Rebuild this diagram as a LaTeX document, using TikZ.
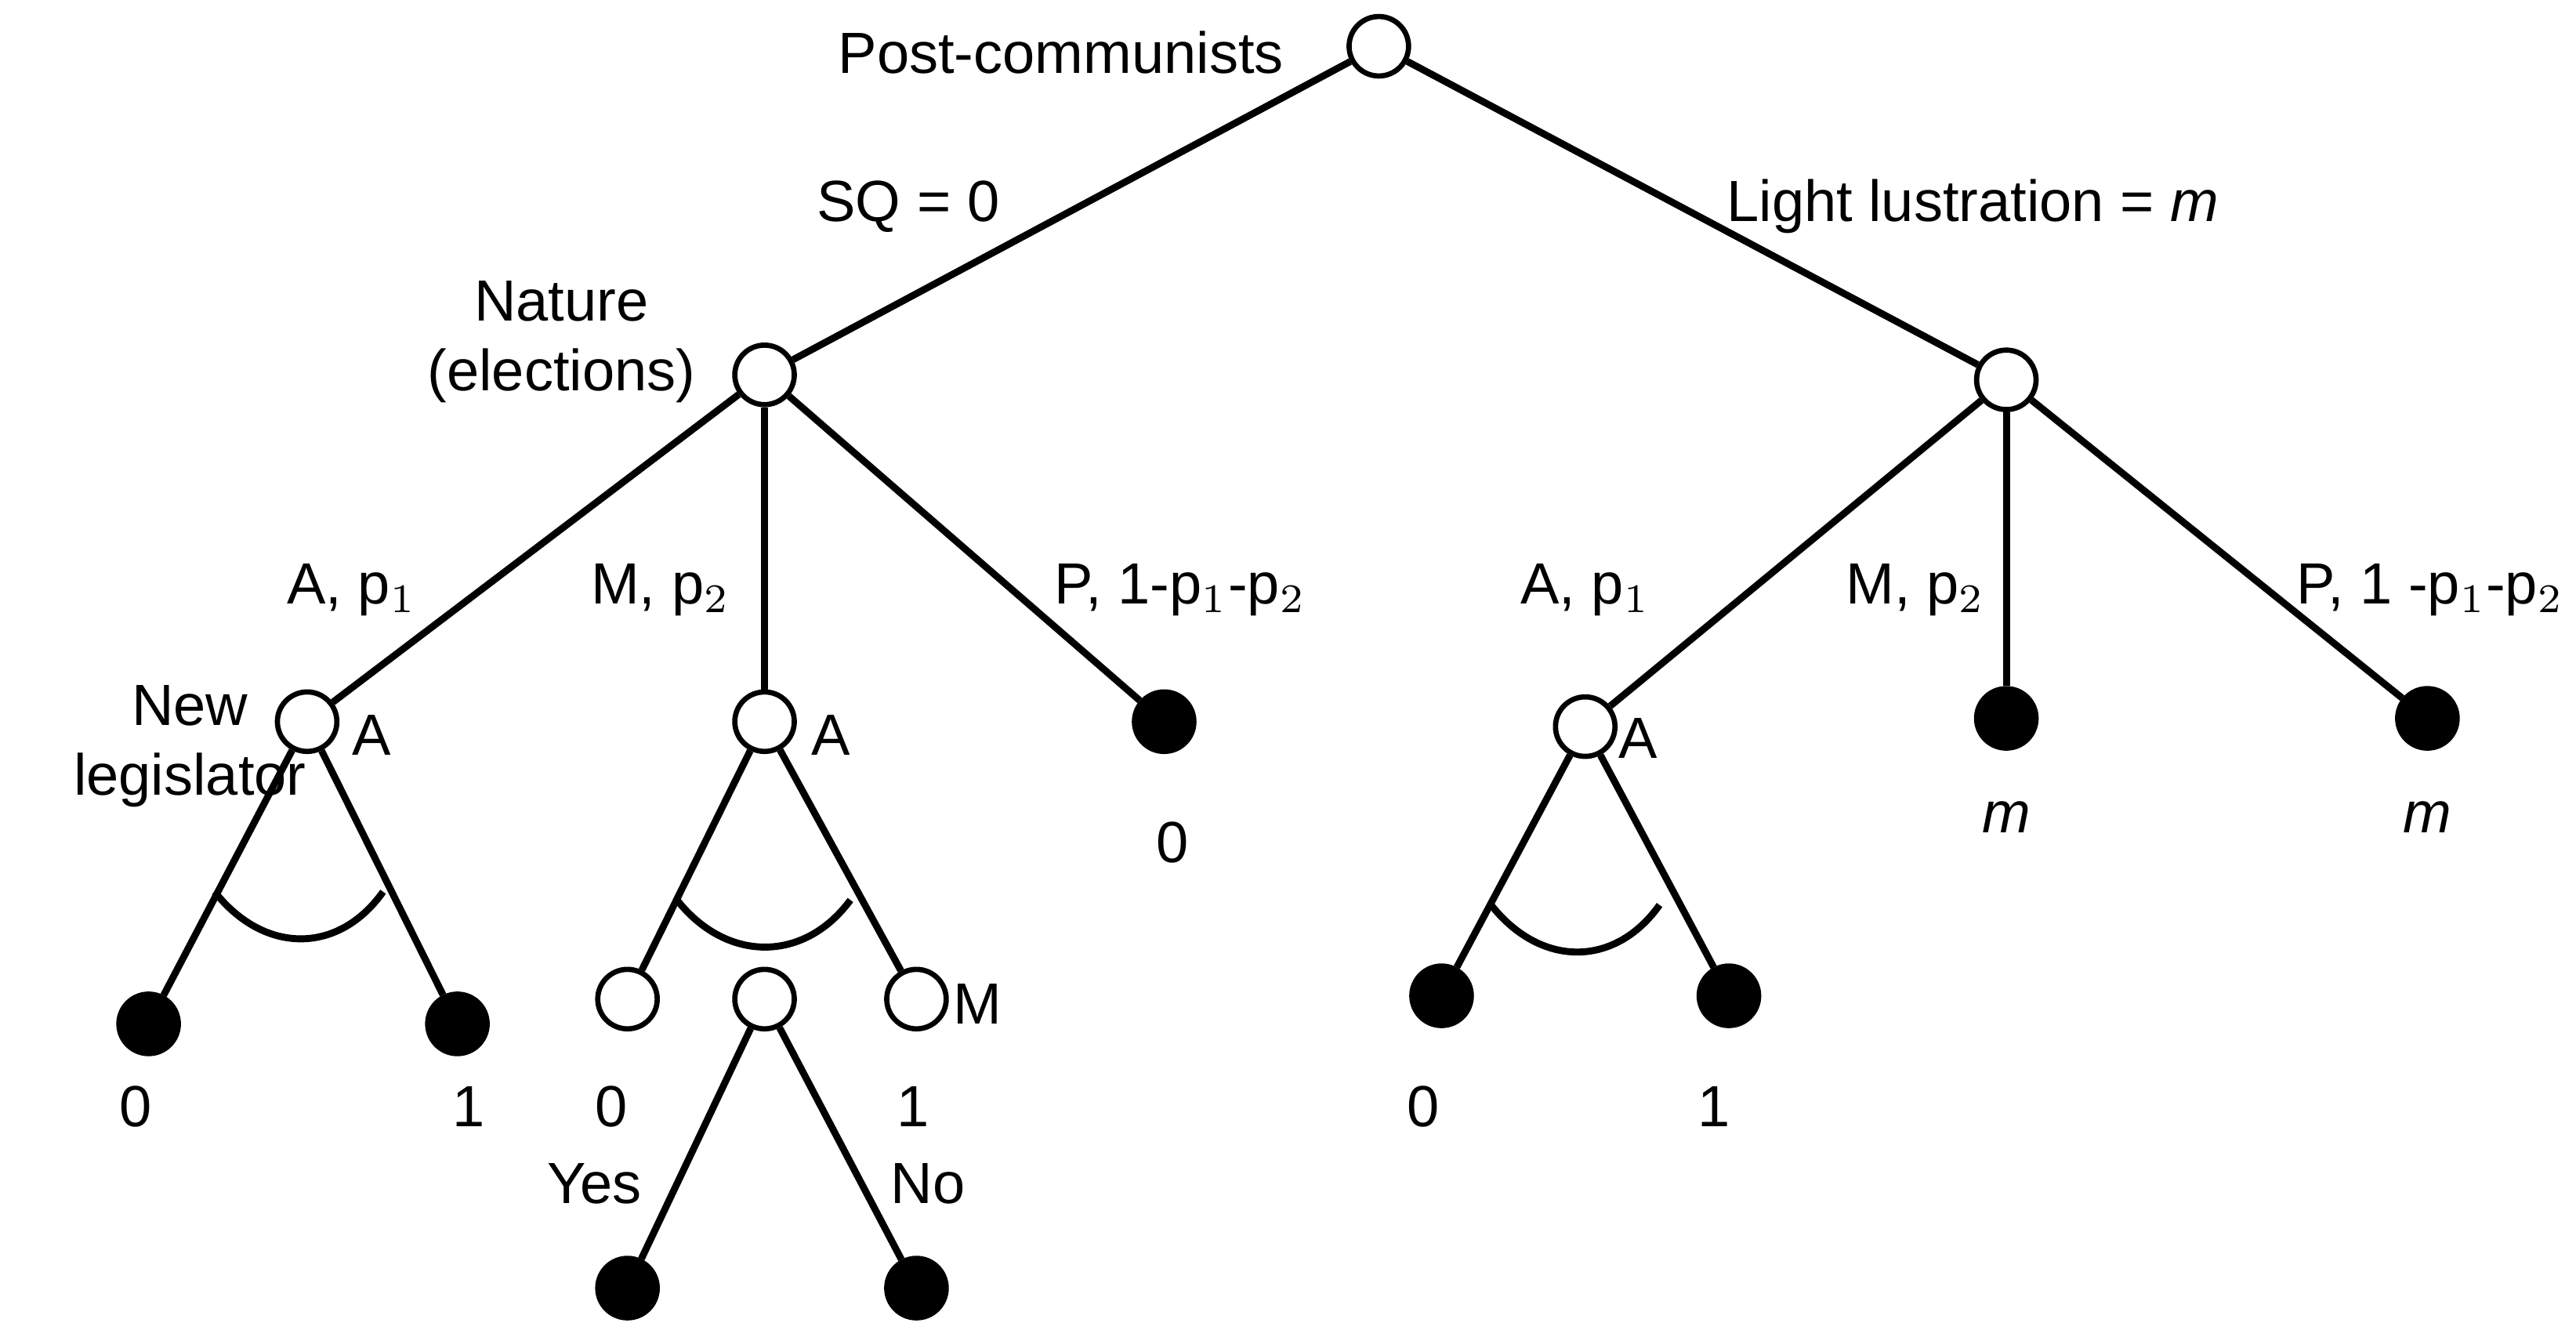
\documentclass[tikz,border=0pt]{standalone}
\usepackage{fontspec}
\setmainfont{Liberation Sans}
\begin{document}
\begin{tikzpicture}[x=0.01cm,y=-0.01cm,
  open/.style={circle,draw,fill=white,line width=0.9pt,minimum size=0.36cm,inner sep=0pt},
  full/.style={circle,draw,fill=black,line width=0.9pt,minimum size=0.36cm,inner sep=0pt},
  br/.style={line width=1.2pt},
  lab/.style={font=\fontsize{10}{12}\selectfont,inner sep=0pt}]
\useasboundingbox (0,0) rectangle (1560,805);
\node[open] (r) at (835,28) {};
\node[open] (n) at (463,227) {};
\node[open] (q) at (1215,230) {};
\node[open] (la) at (186,437) {};
\node[open] (ma) at (463,437) {};
\node[full] (pl) at (705,437) {};
\node[open] (ra) at (960,440) {};
\node[full] (rm) at (1215,435) {};
\node[full] (rp) at (1470,435) {};
\node[full] (l0) at (90,620) {};
\node[full] (l1) at (277,620) {};
\node[open] (m0) at (380,605) {};
\node[open] (mv) at (463,605) {};
\node[open] (m1) at (555,605) {};
\node[full] (yes) at (380,780) {};
\node[full] (no) at (555,780) {};
\node[full] (r0) at (873,603) {};
\node[full] (r1) at (1047,603) {};
\begin{scope}[br]
\draw (r)--(n); \draw (r)--(q);
\draw (n)--(la); \draw (n)--(ma); \draw (n)--(pl);
\draw (q)--(ra); \draw (q)--(rm); \draw (q)--(rp);
\draw (la)--(l0); \draw (la)--(l1);
\draw (ma)--(m0); \draw (ma)--(m1);
\draw (mv)--(yes); \draw (mv)--(no);
\draw (ra)--(r0); \draw (ra)--(r1);
\draw (130,540) .. controls (160,578) and (205,578) .. (232,540);
\draw (410,545) .. controls (440,583) and (487,583) .. (515,545);
\draw (903,548) .. controls (933,586) and (978,586) .. (1005,548);
\end{scope}
\node[lab,anchor=east] (t1) at (778,32) {Post-communists};
\node[lab] (t2) at (550,125) {SQ = 0};
\node[lab,anchor=west] (t3) at (1045,125) {Light lustration = \textit{m}};
\node[lab,align=center] (t4) at (340,207) {Nature\\(elections)};
\node[lab] (t5) at (213,357) {A, p$_1$};
\node[lab] (t6) at (400,357) {M, p$_2$};
\node[lab,anchor=west] (t7) at (638,357) {P, 1-p$_1$-p$_2$};
\node[lab] (t8) at (960,357) {A, p$_1$};
\node[lab] (t9) at (1160,357) {M, p$_2$};
\node[lab,anchor=west] (t10) at (1390,357) {P, 1 -p$_1$-p$_2$};
\node[lab,align=center] (t11) at (115,452) {New\\legislator};
\node[lab] (t12) at (225,445) {A};
\node[lab] (t13) at (503,445) {A};
\node[lab] (t14) at (992,447) {A};
\node[lab] (t15) at (710,510) {0};
\node[lab] (t16) at (1215,495) {\textit{m}};
\node[lab] (t17) at (1470,495) {\textit{m}};
\node[lab] (t18) at (82,670) {0};
\node[lab] (t19) at (284,670) {1};
\node[lab] (t20) at (370,670) {0};
\node[lab] (t21) at (553,670) {1};
\node[lab] (t22) at (592,608) {M};
\node[lab] (t23) at (360,717) {Yes};
\node[lab] (t24) at (562,717) {No};
\node[lab] (t25) at (862,670) {0};
\node[lab] (t26) at (1038,670) {1};
\end{tikzpicture}
\end{document}
